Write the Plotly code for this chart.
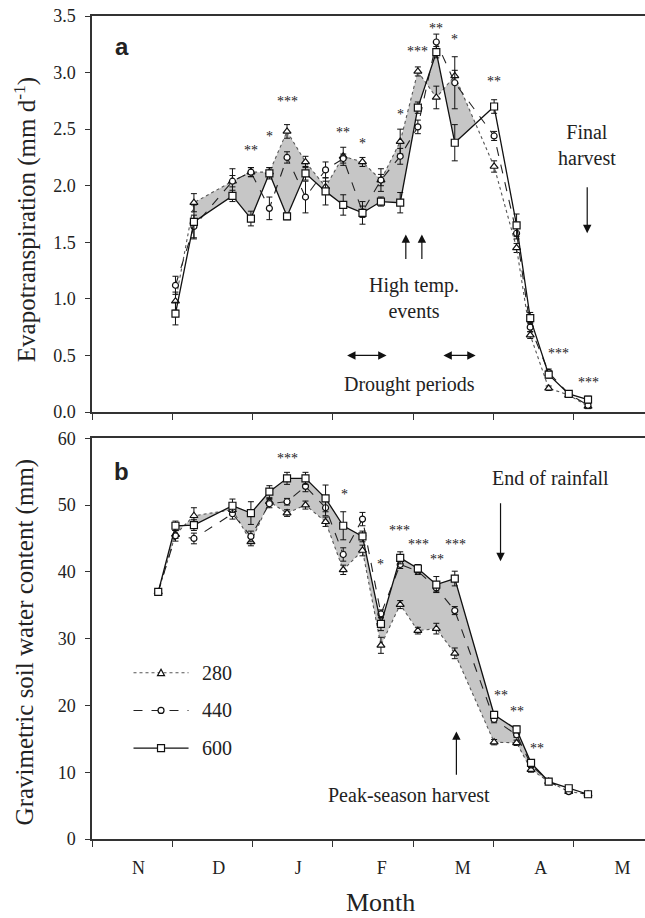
import plotly.graph_objects as go

# ---------------- data ----------------
month_labels = ["N", "D", "J", "F", "M", "A", "M"]
month_label_pos = [0.58, 1.58, 2.57, 3.61, 4.62, 5.59, 6.61]
month_bounds = [0, 1, 2, 3, 4, 5, 6]

# panel a: evapotranspiration (mm d-1); x in months from 1 Nov
dates_et = [1.04, 1.27, 1.75, 1.98, 2.21, 2.43, 2.66, 2.91, 3.13, 3.37, 3.60,
            3.84, 4.06, 4.29, 4.52, 5.01, 5.29, 5.46, 5.69, 5.94, 6.18]
et_280 = [0.98, 1.85, 2.04, 2.12, 2.12, 2.48, 2.21, 1.99, 2.26, 2.21, 2.05,
          2.39, 3.01, 2.78, 2.97, 2.17, 1.45, 0.68, 0.21, 0.15, 0.05]
et_440 = [1.12, 1.64, 2.04, 2.12, 1.80, 2.25, 1.90, 2.14, 2.24, 1.77, 2.05,
          2.26, 2.52, 3.27, 2.91, 2.44, 1.58, 0.75, 0.35, 0.16, 0.06]
et_600 = [0.87, 1.68, 1.91, 1.71, 2.11, 1.73, 2.11, 1.95, 1.83, 1.76, 1.86,
          1.85, 2.69, 3.18, 2.38, 2.70, 1.65, 0.83, 0.33, 0.16, 0.11]
et_err_280 = [0.08, 0.08, 0.05, 0.04, 0.04, 0.06, 0.05, 0.05, 0.08, 0.04, 0.05,
              0.11, 0.04, 0.10, 0.05, 0.05, 0.04, 0.03, 0.02, 0.02, 0.02]
et_err_440 = [0.08, 0.10, 0.11, 0.04, 0.10, 0.05, 0.14, 0.07, 0.04, 0.05, 0.10,
              0.07, 0.06, 0.07, 0.23, 0.04, 0.05, 0.04, 0.03, 0.02, 0.02]
et_err_600 = [0.10, 0.15, 0.05, 0.065, 0.05, 0.03, 0.06, 0.12, 0.09, 0.10, 0.04,
              0.09, 0.05, 0.05, 0.16, 0.06, 0.10, 0.05, 0.03, 0.02, 0.03]

# panel b: gravimetric soil water content (mm)
dates_sw = [0.825, 1.04, 1.27, 1.75, 1.98, 2.21, 2.43, 2.66, 2.91, 3.13, 3.37,
            3.60, 3.84, 4.06, 4.29, 4.52, 5.01, 5.29, 5.47, 5.69, 5.94, 6.18]
sw_280 = [37.0, 45.6, 48.4, 49.3, 44.5, 50.5, 48.8, 50.0, 47.5, 40.3, 43.2,
          29.0, 35.1, 31.2, 31.5, 27.8, 14.5, 14.4, 10.4, 8.6, 7.1, 6.7]
sw_440 = [37.0, 45.4, 45.0, 48.7, 45.3, 50.2, 50.5, 52.8, 49.6, 42.6, 47.9,
          33.7, 41.1, 40.1, 37.6, 34.2, 17.9, 15.6, 11.1, 8.6, 7.1, 6.7]
sw_600 = [37.0, 46.9, 47.0, 49.9, 48.8, 52.0, 54.0, 54.0, 51.0, 46.9, 45.3,
          32.2, 42.1, 40.5, 38.1, 39.0, 18.6, 16.4, 11.4, 8.6, 7.6, 6.7]
sw_err_280 = [0.4, 0.6, 1.2, 0.6, 0.6, 0.5, 0.5, 0.6, 0.7, 0.7, 0.8,
              1.2, 0.6, 0.5, 0.8, 0.8, 0.4, 0.4, 0.4, 0.3, 0.3, 0.3]
sw_err_440 = [0.4, 0.8, 0.8, 0.8, 0.8, 0.6, 0.5, 0.8, 1.2, 1.0, 1.0,
              0.6, 0.6, 0.5, 0.6, 0.6, 0.5, 0.4, 0.4, 0.3, 0.3, 0.3]
sw_err_600 = [0.4, 0.7, 0.8, 1.0, 1.7, 0.9, 0.9, 0.9, 2.0, 2.1, 0.8,
              1.0, 0.9, 0.6, 1.2, 1.1, 0.5, 0.5, 0.4, 0.3, 0.3, 0.3]

series_names = ["280", "440", "600"]

# significance stars (x in months, y in data units)
stars_a = [(1.98, 2.34, "**"), (2.21, 2.46, "*"), (2.43, 2.77, "***"),
           (3.13, 2.50, "**"), (3.37, 2.40, "*"), (3.84, 2.66, "*"),
           (4.06, 3.21, "***"), (4.29, 3.42, "**"), (4.52, 3.32, "*"),
           (5.01, 2.95, "**"), (5.81, 0.54, "***"), (6.19, 0.29, "***")]
stars_b = [(2.43, 57.4, "***"), (3.14, 52.0, "*"), (3.60, 41.5, "*"),
           (3.83, 46.7, "***"), (4.07, 44.6, "***"), (4.30, 42.3, "**"),
           (4.53, 44.6, "***"), (5.09, 21.9, "**"), (5.30, 19.6, "**"),
           (5.55, 14.0, "**")]

# ---------------- styles ----------------
FONT = "Liberation Serif"
INK = "#222222"
FILL = "rgb(198,198,198)"
styles = {
    "280": dict(dash="dot", width=1.1, color="#555555", symbol="triangle-up", size=7),
    "440": dict(dash="dash", width=1.1, color="#222222", symbol="circle", size=6),
    "600": dict(dash="solid", width=1.3, color="#111111", symbol="square", size=7),
}

fig = go.Figure()


def band(xs, lo, hi, i0, i1, clip_next=False):
    """Polygon between two series from index i0..i1 (optionally up to next crossing)."""
    px = list(xs[i0:i1 + 1])
    up = list(hi[i0:i1 + 1])
    dn = list(lo[i0:i1 + 1])
    if clip_next:
        d0 = hi[i1] - lo[i1]
        d1 = hi[i1 + 1] - lo[i1 + 1]
        t = d0 / (d0 - d1)
        xc = xs[i1] + t * (xs[i1 + 1] - xs[i1])
        yc = lo[i1] + t * (lo[i1 + 1] - lo[i1])
        return px + [xc] + px[::-1], up + [yc] + dn[::-1]
    return px + px[::-1], up + dn[::-1]


bx, by = band(dates_et, et_600, et_280, 1, 14, clip_next=True)
fig.add_trace(go.Scatter(x=bx, y=by, fill="toself", fillcolor=FILL, mode="none",
                         xaxis="x", yaxis="y", showlegend=False, hoverinfo="skip"))
bx, by = band(dates_sw, sw_280, sw_600, 0, 19)
fig.add_trace(go.Scatter(x=bx, y=by, fill="toself", fillcolor=FILL, mode="none",
                         xaxis="x2", yaxis="y2", showlegend=False, hoverinfo="skip"))


def add_series(xs, ys, errs, name, xa, ya):
    s = styles[name]
    fig.add_trace(go.Scatter(
        x=xs, y=ys, name=name, mode="lines+markers", xaxis=xa, yaxis=ya,
        line=dict(color=s["color"], width=s["width"], dash=s["dash"]),
        marker=dict(symbol=s["symbol"], size=s["size"], color="white",
                    line=dict(color="#111111", width=1.2)),
        error_y=dict(type="data", array=errs, visible=True, color="#111111",
                     thickness=1, width=3),
        showlegend=False))


for name, ys, es in zip(series_names, [et_280, et_440, et_600],
                        [et_err_280, et_err_440, et_err_600]):
    add_series(dates_et, ys, es, name, "x", "y")
for name, ys, es in zip(series_names, [sw_280, sw_440, sw_600],
                        [sw_err_280, sw_err_440, sw_err_600]):
    add_series(dates_sw, ys, es, name, "x2", "y2")

# ---------------- annotations ----------------
ann = []
for x, y, t in stars_a:
    ann.append(dict(x=x, y=y, xref="x", yref="y", text=t, showarrow=False,
                    font=dict(family=FONT, size=14, color=INK), yshift=-3))
for x, y, t in stars_b:
    ann.append(dict(x=x, y=y, xref="x2", yref="y2", text=t, showarrow=False,
                    font=dict(family=FONT, size=14, color=INK), yshift=-3))

tfont = dict(family=FONT, size=20, color=INK)
ann += [
    dict(x=0.37, y=3.23, xref="x", yref="y", text="<b>a</b>", showarrow=False,
         font=dict(family="Liberation Sans", size=24, color=INK)),
    dict(x=0.37, y=55.0, xref="x2", yref="y2", text="<b>b</b>", showarrow=False,
         font=dict(family="Liberation Sans", size=24, color=INK)),
    dict(x=6.17, y=2.36, xref="x", yref="y", text="Final<br>harvest", showarrow=False, font=tfont),
    dict(x=4.01, y=1.01, xref="x", yref="y", text="High temp.<br>events", showarrow=False, font=tfont),
    dict(x=3.96, y=0.24, xref="x", yref="y", text="Drought periods", showarrow=False, font=tfont),
    dict(x=5.71, y=54.0, xref="x2", yref="y2", text="End of rainfall", showarrow=False, font=tfont),
    dict(x=3.95, y=6.6, xref="x2", yref="y2", text="Peak-season harvest", showarrow=False, font=tfont),
]


def arrow(xref, yref, x, y, ax, ay, both=False):
    return dict(x=x, y=y, ax=ax, ay=ay, xref=xref, yref=yref, axref=xref, ayref=yref,
                text="", showarrow=True, arrowhead=2, arrowsize=1.4, arrowwidth=1.2,
                arrowcolor="#111111", standoff=0, startstandoff=0,
                arrowside="end+start" if both else "end", startarrowhead=2,
                startarrowsize=1.4)


ann += [
    arrow("x", "y", 6.17, 1.58, 6.17, 2.00),
    arrow("x", "y", 3.91, 1.57, 3.91, 1.34),
    arrow("x", "y", 4.11, 1.57, 4.11, 1.34),
    arrow("x", "y", 3.67, 0.50, 3.16, 0.50, both=True),
    arrow("x", "y", 4.78, 0.50, 4.36, 0.50, both=True),
    arrow("x2", "y2", 5.09, 41.6, 5.09, 50.5),
    arrow("x2", "y2", 4.54, 16.1, 4.54, 9.4),
]

# axis titles
ann += [
    dict(x=-0.121, y=0.752, xref="paper", yref="paper", xanchor="center", yanchor="middle",
         text="Evapotranspiration (mm d<sup>-1</sup>)",
         textangle=-90, showarrow=False, font=dict(family=FONT, size=25, color=INK)),
    dict(x=-0.121, y=0.239, xref="paper", yref="paper", xanchor="center", yanchor="middle",
         text="Gravimetric soil water content (mm)",
         textangle=-90, showarrow=False, font=dict(family=FONT, size=25, color=INK)),
    dict(x=0.521, y=-0.0766, xref="paper", yref="paper", xanchor="center", yanchor="middle",
         text="Month", showarrow=False, font=dict(family=FONT, size=26, color=INK)),
]

# legend (drawn manually, panel b)
leg_rows = [24.9, 19.25, 13.6]
shapes = []
for name, yy in zip(series_names, leg_rows):
    s = styles[name]
    shapes.append(dict(type="line", xref="x2", yref="y2", x0=0.517, x1=1.203, y0=yy, y1=yy,
                       line=dict(color=s["color"], width=s["width"], dash=s["dash"])))
    common = dict(xref="x2", yref="y2", xsizemode="pixel", ysizemode="pixel",
                  xanchor=0.86, yanchor=yy, fillcolor="white",
                  line=dict(color="#111111", width=1.2))
    if name == "600":
        shapes.append(dict(type="rect", x0=-3.5, x1=3.5, y0=-3.5, y1=3.5, **common))
    elif name == "440":
        shapes.append(dict(type="circle", x0=-3, x1=3, y0=-3, y1=3, **common))
    else:
        shapes.append(dict(type="path", path="M-3.5,-3 L3.5,-3 L0,3.5 Z", **common))
    ann.append(dict(x=1.35, y=yy, xref="x2", yref="y2", text=name, xanchor="left",
                    showarrow=False, font=dict(family=FONT, size=20, color=INK)))

# ---------------- layout ----------------
xcommon = dict(range=[0, 6.89], showline=True, linecolor="#333333", linewidth=1.5,
               mirror=True, showgrid=False, zeroline=False,
               tickmode="array", tickvals=month_label_pos, ticktext=month_labels,
               ticks="", ticklen=0,
               minor=dict(tickmode="array", tickvals=month_bounds, ticks="outside",
                          ticklen=6, tickwidth=1.2, tickcolor="#333333", showgrid=False),
               tickfont=dict(family=FONT, size=18, color=INK))
ycommon = dict(showline=True, linecolor="#333333", linewidth=1.5, showgrid=False,
               zeroline=False, ticks="outside", ticklen=5, tickwidth=1.2,
               tickcolor="#333333", ticklabelstandoff=6,
               tickfont=dict(family=FONT, size=18, color=INK))

fig.update_layout(
    width=645, height=918,
    margin=dict(l=92, r=0, t=16, b=79),
    plot_bgcolor="white", paper_bgcolor="white",
    showlegend=False,
    font=dict(family=FONT, size=18, color=INK),
    xaxis=dict(domain=[0, 1], anchor="y", showticklabels=False, **xcommon),
    yaxis=dict(domain=[0.5188, 1], anchor="x", range=[0, 3.5], dtick=0.5,
               tickformat=".1f", **ycommon),
    xaxis2=dict(domain=[0, 1], anchor="y2", showticklabels=True, ticklabelstandoff=12, **xcommon),
    yaxis2=dict(domain=[0, 0.4869], anchor="x2", range=[0, 60], dtick=10, **ycommon),
    annotations=ann,
    shapes=shapes,
)

fig.write_html("out.html")
